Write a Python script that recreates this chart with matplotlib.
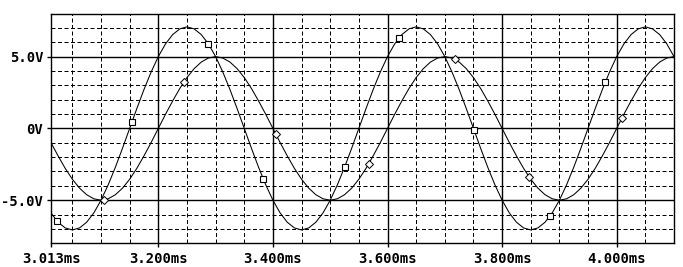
import numpy as np
import matplotlib.pyplot as plt

# sample times (ms), one point every 12.5 us across the window
t_ms = np.linspace(3.0125, 4.1, 88)

# trace with square markers (about 7.07 V peak)
v_sq = [-5.88, -6.53, -6.93, -7.07, -6.93, -6.53, -5.88, -5.00, -3.93, -2.71, -1.38,
        0.00, 1.38, 2.71, 3.93, 5.00, 5.88, 6.53, 6.93, 7.07, 6.93, 6.53, 5.88, 5.00, 3.93, 2.71, 1.38,
        0.00, -1.38, -2.71, -3.93, -5.00, -5.88, -6.53, -6.93, -7.07, -6.93, -6.53, -5.88, -5.00, -3.93, -2.71, -1.38,
        0.00, 1.38, 2.71, 3.93, 5.00, 5.88, 6.53, 6.93, 7.07, 6.93, 6.53, 5.88, 5.00, 3.93, 2.71, 1.38,
        0.00, -1.38, -2.71, -3.93, -5.00, -5.88, -6.53, -6.93, -7.07, -6.93, -6.53, -5.88, -5.00, -3.93, -2.71, -1.38,
        0.00, 1.38, 2.71, 3.93, 5.00, 5.88, 6.53, 6.93, 7.07, 6.93, 6.53, 5.88, 5.00]

# trace with diamond markers (5 V peak)
v_dia = [-0.98, -1.91, -2.78, -3.54, -4.16, -4.62, -4.90, -5.00, -4.90, -4.62, -4.16, -3.54, -2.78, -1.91, -0.98,
         0.00, 0.98, 1.91, 2.78, 3.54, 4.16, 4.62, 4.90, 5.00, 4.90, 4.62, 4.16, 3.54, 2.78, 1.91, 0.98,
         0.00, -0.98, -1.91, -2.78, -3.54, -4.16, -4.62, -4.90, -5.00, -4.90, -4.62, -4.16, -3.54, -2.78, -1.91, -0.98,
         0.00, 0.98, 1.91, 2.78, 3.54, 4.16, 4.62, 4.90, 5.00, 4.90, 4.62, 4.16, 3.54, 2.78, 1.91, 0.98,
         0.00, -0.98, -1.91, -2.78, -3.54, -4.16, -4.62, -4.90, -5.00, -4.90, -4.62, -4.16, -3.54, -2.78, -1.91, -0.98,
         0.00, 0.98, 1.91, 2.78, 3.54, 4.16, 4.62, 4.90, 5.00]

# where the symbols sit on each trace
sq_t = [3.023, 3.154, 3.287, 3.383, 3.525, 3.620, 3.751, 3.884, 3.980]
sq_v = [-6.44, 0.44, 5.91, -3.50, -2.71, 6.30, -0.11, -6.09, 3.21]
dia_t = [3.105, 3.245, 3.405, 3.567, 3.717, 3.847, 4.009]
dia_v = [-4.98, 3.25, -0.39, -2.48, 4.82, -3.36, 0.70]

x_ticks = [3.013, 3.2, 3.4, 3.6, 3.8, 4.0]
x_labels = ['3.013ms', '3.200ms', '3.400ms', '3.600ms', '3.800ms', '4.000ms']
y_ticks = [-5, 0, 5]
y_labels = ['-5.0V', '0V', '5.0V']

fig = plt.figure(figsize=(6.83, 2.67), dpi=100)
ax = fig.add_axes([51 / 683, 1 - 243.3 / 267, 623 / 683, 229.8 / 267])
ax.set_xlim(3.0127, 4.1)
ax.set_ylim(-8, 8)

# dotted minor grid, solid major grid
for x in np.arange(3.05, 4.1, 0.05):
    ax.axvline(x, color='black', lw=0.72, ls=(0, (4, 2.5)), zorder=1)
for y in range(-7, 8):
    ax.axhline(y, color='black', lw=0.72, ls=(0, (4, 2.5)), zorder=1)
for x in x_ticks[1:]:
    ax.axvline(x, color='black', lw=1.0, zorder=1.5)
for y in y_ticks:
    ax.axhline(y, color='black', lw=1.0, zorder=1.5)

ax.plot(t_ms, v_sq, color='black', lw=0.75, zorder=3)
ax.plot(t_ms, v_dia, color='black', lw=0.75, zorder=3)
ax.plot(sq_t, sq_v, ls='none', marker='s', ms=5, mfc='white', mec='black', mew=0.8, zorder=4)
ax.plot(dia_t, dia_v, ls='none', marker='D', ms=3.6, mfc='white', mec='black', mew=0.7, zorder=4)

ax.set_xticks(x_ticks)
ax.set_xticklabels(x_labels)
ax.set_yticks(y_ticks)
ax.set_yticklabels(y_labels)
ax.tick_params(direction='out', length=3, width=1, labelsize=10)
ax.tick_params(axis='x', pad=3.5)
ax.tick_params(axis='y', pad=2.5)
for lab in ax.get_xticklabels() + ax.get_yticklabels():
    lab.set_family('DejaVu Sans Mono')
    lab.set_weight('bold')
for sp in ax.spines.values():
    sp.set_linewidth(1.0)

fig.savefig('out.png', dpi=100)
